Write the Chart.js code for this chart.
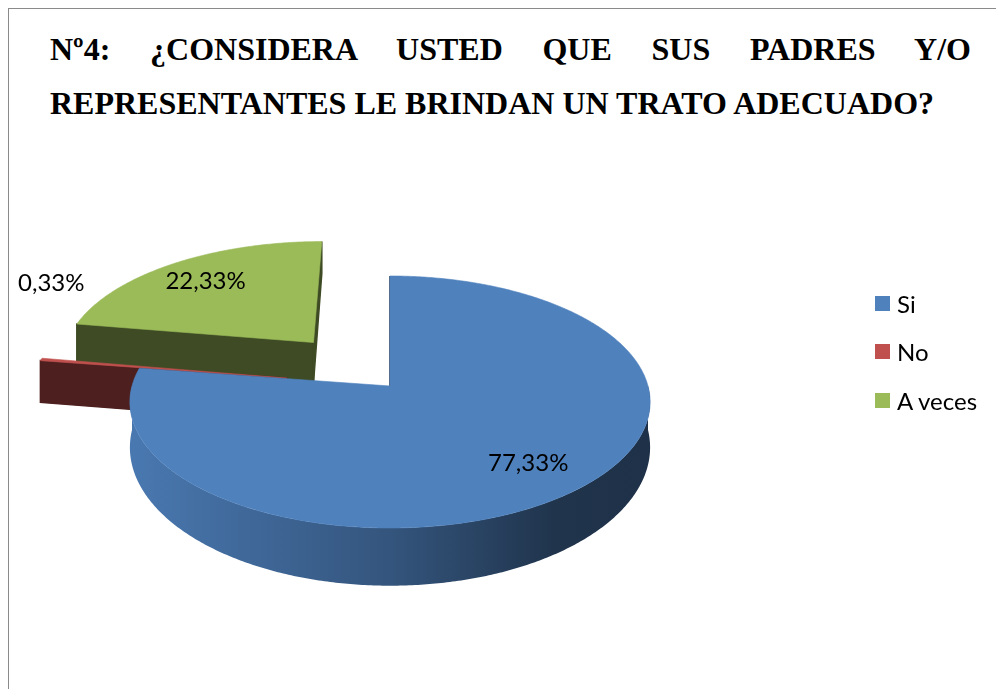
<!DOCTYPE html>
<html>
<head>
<meta charset="utf-8">
<script src="https://cdn.jsdelivr.net/npm/chart.js@4/dist/chart.umd.min.js"></script>
<style>
  html, body { margin: 0; padding: 0; background: #fff; width: 996px; height: 689px; overflow: hidden; }
  #frame { position: absolute; left: 8px; top: 8px; width: 1200px; height: 900px; border: 1.5px solid #8a8a8a; box-sizing: border-box; }
  .tline { position: absolute; left: 50px; width: 921px; font-family: "Liberation Serif", "Times New Roman", serif; font-weight: bold; font-size: 32px; line-height: 32px; color: #000; white-space: nowrap; }
  #t1 { top: 33px; text-align: justify; text-align-last: justify; white-space: normal; }
  #t2 { top: 87px; }
  #c { position: absolute; left: 0; top: 0; }
  #legend { position: absolute; left: 875px; top: 286px; font-family: Lato, "Open Sans", sans-serif; font-size: 24px; color: #000; }
  .li { display: flex; align-items: center; height: 34px; margin-bottom: 14.5px; }
  .sw { width: 15px; height: 15px; margin-right: 7px; }
</style>
</head>
<body>
<div id="frame"></div>
<div class="tline" id="t1">Nº4: ¿CONSIDERA USTED QUE SUS PADRES Y/O</div>
<div class="tline" id="t2">REPRESENTANTES LE BRINDAN UN TRATO ADECUADO?</div>
<canvas id="c" width="996" height="689"></canvas>
<div id="legend"></div>
<script>
// ---- data ----
const categories = ['Si', 'No', 'A veces'];
const percentages = [77.33, 0.33, 22.33];
const colors = ['#4F81BD', '#C0504D', '#9BBB59'];
const explodePx = [0, 105, 124];

function shade(hex, f) {
  const n = parseInt(hex.slice(1), 16);
  const r = (n >> 16) & 255, g = (n >> 8) & 255, b = n & 255;
  return 'rgb(' + Math.round(r * f) + ',' + Math.round(g * f) + ',' + Math.round(b * f) + ')';
}
function poly(ctx, pts) {
  ctx.beginPath();
  ctx.moveTo(pts[0][0], pts[0][1]);
  for (let i = 1; i < pts.length; i++) ctx.lineTo(pts[i][0], pts[i][1]);
  ctx.closePath();
}
function fmt(v) { return v.toFixed(2).replace('.', ',') + '%'; }

const pie3d = {
  id: 'pie3d',
  beforeDatasetsDraw(chart, args, opts) {
    const ctx = chart.ctx;
    const meta = chart.getDatasetMeta(0);
    const arcs = meta.data;
    const cx = arcs[0].x, cy = arcs[0].y;
    const tilt = opts.tilt, persp = opts.persp, depth = opts.depth;
    const proj = (dx, dy, z) => {
      const s = 1 / (1 - persp * dy);
      return [cx + dx * s, cy + tilt * dy * s + z * s * s];
    };
    const items = arcs.map((arc, i) => {
      const mid = (arc.startAngle + arc.endAngle) / 2;
      const d = (arc.options.offset || 0) / 4;
      return { arc, i, mid, ox: Math.cos(mid) * d, oy: Math.sin(mid) * d };
    });
    const order = items.slice().sort((p, q) => p.oy - q.oy);
    ctx.save();
    for (const it of order) {
      const { arc, ox, oy } = it;
      const R = arc.outerRadius;
      const sa = arc.startAngle, ea = arc.endAngle;
      const base = arc.options.backgroundColor;
      const P = (ang, r, z) => proj(ox + Math.cos(ang) * r, oy + Math.sin(ang) * r, z);
      const sideCol = shade(base, 0.4);
      // radial cut faces
      const faces = [];
      if (Math.cos(sa) <= 0.01) faces.push(sa);
      if (Math.cos(ea) >= -0.01) faces.push(ea);
      for (const ang of faces) {
        poly(ctx, [P(ang, 0, 0), P(ang, R, 0), P(ang, R, depth), P(ang, 0, depth)]);
        ctx.fillStyle = sideCol; ctx.fill();
        ctx.strokeStyle = sideCol; ctx.lineWidth = 1.5; ctx.stroke();
      }
      // outer wall (front half only)
      for (const [lo, hi] of [[-2 * Math.PI, -Math.PI], [0, Math.PI], [2 * Math.PI, 3 * Math.PI]]) {
        const a0 = Math.max(sa, lo), a1 = Math.min(ea, hi);
        if (a1 <= a0) continue;
        const top = [], bot = [];
        const n = Math.max(2, Math.ceil((a1 - a0) / 0.01));
        for (let k = 0; k <= n; k++) {
          const t = a0 + (a1 - a0) * k / n;
          top.push(P(t, R, 0)); bot.push(P(t, R, depth));
        }
        const xl = P(Math.PI, R, 0)[0], xr = P(0, R, 0)[0];
        const g = ctx.createLinearGradient(xl, 0, xr, 0);
        g.addColorStop(0, shade(base, 0.93));
        g.addColorStop(0.5, shade(base, 0.66));
        g.addColorStop(0.82, shade(base, 0.4));
        g.addColorStop(1, shade(base, 0.38));
        poly(ctx, top.concat(bot.reverse()));
        ctx.fillStyle = g; ctx.fill();
      }
      // top face
      const pts = [P(sa, 0, 0)];
      const n = Math.max(2, Math.ceil((ea - sa) / 0.01));
      for (let k = 0; k <= n; k++) pts.push(P(sa + (ea - sa) * k / n, R, 0));
      poly(ctx, pts);
      ctx.fillStyle = base; ctx.fill();
      ctx.strokeStyle = base; ctx.lineWidth = 0.6; ctx.stroke();
    }
    // data labels
    ctx.fillStyle = '#000';
    ctx.font = '24px Lato, "Open Sans", sans-serif';
    ctx.textAlign = 'center';
    ctx.textBaseline = 'middle';
    const total = percentages.reduce((a, b) => a + b, 0);
    for (const it of items) {
      const { arc, ox, oy, mid, i } = it;
      const R = arc.outerRadius;
      const share = percentages[i] / total;
      let x, y;
      if (share >= 0.05) {
        [x, y] = proj(ox + Math.cos(mid) * R * 0.76, oy + Math.sin(mid) * R * 0.76, 0);
      } else {
        const p = proj(ox + Math.cos(mid) * R, oy + Math.sin(mid) * R, 0);
        x = p[0] + 10; y = p[1] - 76;
      }
      ctx.fillText(fmt(percentages[i]), x, y);
    }
    ctx.restore();
    return false;
  }
};

new Chart(document.getElementById('c'), {
  type: 'pie',
  data: {
    labels: categories,
    datasets: [{
      data: percentages,
      backgroundColor: colors,
      offset: explodePx.map(v => v * 4),
      borderWidth: 0,
      radius: 258
    }]
  },
  options: {
    responsive: false,
    animation: false,
    events: [],
    layout: { padding: { left: 0, right: 216, top: 83, bottom: 0 } },
    plugins: {
      legend: { display: false },
      tooltip: { enabled: false },
      pie3d: { tilt: 0.4805, persp: 0.000492, depth: 44 }
    }
  },
  plugins: [pie3d]
});

// HTML legend
const lg = document.getElementById('legend');
categories.forEach((c, i) => {
  const row = document.createElement('div');
  row.className = 'li';
  const sw = document.createElement('div');
  sw.className = 'sw';
  sw.style.background = colors[i];
  const tx = document.createElement('span');
  tx.textContent = c;
  row.appendChild(sw); row.appendChild(tx);
  lg.appendChild(row);
});
</script>
</body>
</html>
